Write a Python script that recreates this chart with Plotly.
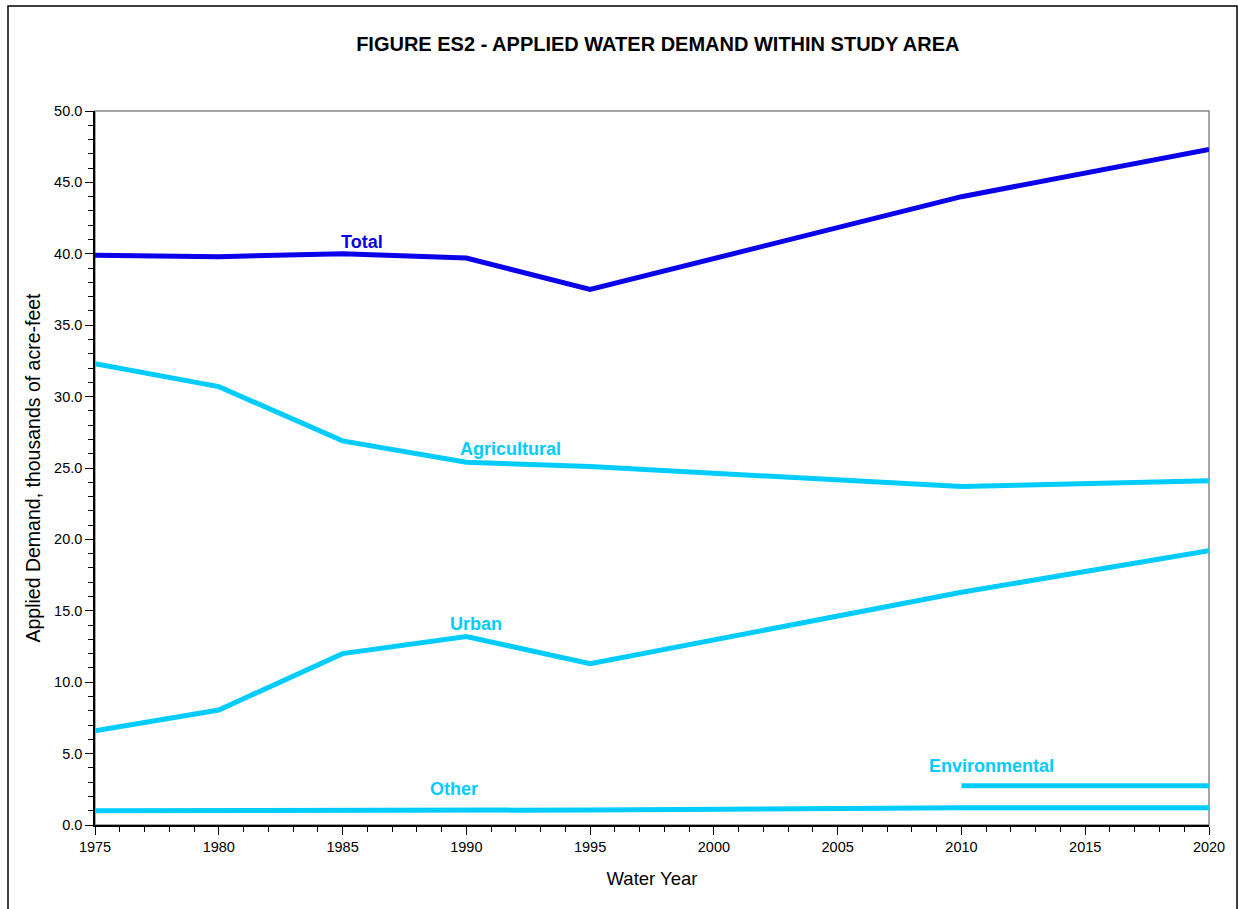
import plotly.graph_objects as go

years = [1975, 1980, 1985, 1990, 1995, 2010, 2020]
total = [39.9, 39.8, 40.0, 39.7, 37.5, 44.0, 47.3]
agricultural = [32.3, 30.7, 26.9, 25.4, 25.1, 23.7, 24.1]
urban = [6.6, 8.05, 12.0, 13.2, 11.3, 16.3, 19.2]
other = [1.0, 1.0, 1.05, 1.05, 1.05, 1.2, 1.2]
env_years = [2010, 2020]
environmental = [2.75, 2.75]

label_names = ["Total", "Agricultural", "Urban", "Other", "Environmental"]
label_x = [1985.8, 1991.8, 1990.4, 1989.5, 2011.2]
label_y = [40.8, 26.3, 14.1, 2.5, 4.1]

BLUE = "#0a00ea"
CYAN = "#00ccff"
label_colors = [BLUE, CYAN, CYAN, CYAN, CYAN]

fig = go.Figure()
fig.add_trace(go.Scatter(x=years, y=other, mode="lines", line=dict(color=CYAN, width=5), name="Other"))
fig.add_trace(go.Scatter(x=env_years, y=environmental, mode="lines", line=dict(color=CYAN, width=5), name="Environmental"))
fig.add_trace(go.Scatter(x=years, y=urban, mode="lines", line=dict(color=CYAN, width=5), name="Urban"))
fig.add_trace(go.Scatter(x=years, y=agricultural, mode="lines", line=dict(color=CYAN, width=5), name="Agricultural"))
fig.add_trace(go.Scatter(x=years, y=total, mode="lines", line=dict(color=BLUE, width=5), name="Total"))

for name, lx, ly, c in zip(label_names, label_x, label_y, label_colors):
    fig.add_annotation(x=lx, y=ly, xref="x", yref="y", text="<b>%s</b>" % name, showarrow=False,
                       font=dict(family="Liberation Sans, Arial", size=18, color=c))

fig.update_layout(
    width=1238, height=909,
    margin=dict(l=95, r=29, t=111, b=84),
    paper_bgcolor="white", plot_bgcolor="white",
    showlegend=False,
    font=dict(family="Liberation Sans, Arial", color="black"),
    title=dict(text="<b>FIGURE ES2 - APPLIED WATER DEMAND WITHIN STUDY AREA</b>",
               x=(320 + 931) / 2 / 1238, xanchor="center", y=1 - 44 / 909, yanchor="middle",
               xref="paper", font=dict(size=20, color="black")),
    xaxis=dict(range=[1975, 2020], dtick=5, tick0=1975, showgrid=False, zeroline=False,
               showline=True, linecolor="black", linewidth=1.5,
               ticks="outside", ticklen=8, tickcolor="black",
               minor=dict(dtick=1, ticks="outside", ticklen=5, tickcolor="black"),
               tickfont=dict(size=14.5),
               title=dict(text="Water Year", font=dict(size=18.5), standoff=18)),
    yaxis=dict(range=[0, 50], dtick=5, tickformat=".1f", showgrid=False, zeroline=False,
               showline=True, linecolor="black", linewidth=1.5,
               ticks="outside", ticklen=8, tickcolor="black",
               minor=dict(dtick=1, ticks="outside", ticklen=5, tickcolor="black"),
               tickfont=dict(size=14.5),
               title=dict(text="Applied Demand, thousands of acre-feet", font=dict(size=19.5), standoff=8)),
    shapes=[
        dict(type="rect", xref="paper", yref="paper", x0=0, x1=1, y0=0, y1=1,
             line=dict(color="#888888", width=1.5), layer="below"),
        dict(type="rect", xref="paper", yref="paper",
             x0=(8 - 95) / 1114, x1=(1237 - 95) / 1114,
             y0=(825 - 915) / 714, y1=(825 - 6) / 714,
             line=dict(color="black", width=1.5), layer="below"),
    ],
)

fig.write_html("out.html", config={"displayModeBar": False},
               post_script="document.body.style.margin='0px';")
